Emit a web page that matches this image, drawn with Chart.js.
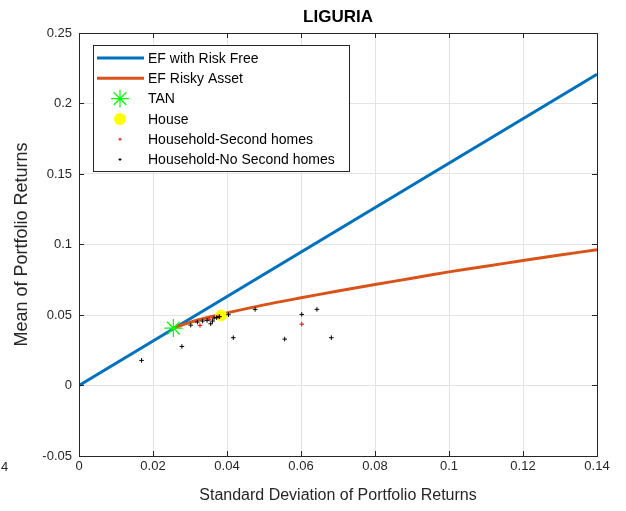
<!DOCTYPE html>
<html>
<head>
<meta charset="utf-8">
<script src="https://cdn.jsdelivr.net/npm/chart.js@4.4.0/dist/chart.umd.min.js"></script>
<style>
  html, body { margin: 0; padding: 0; background: #ffffff; }
  #wrap { width: 626px; height: 511px; position: relative; }
</style>
</head>
<body>
<div id="wrap"><canvas id="c" width="626" height="511"></canvas></div>
<script>
// ---- data ----
const titleText = 'LIGURIA';
const xTicks = [0, 0.02, 0.04, 0.06, 0.08, 0.1, 0.12, 0.14];
const yTicks = [-0.05, 0, 0.05, 0.1, 0.15, 0.2, 0.25];

const efRiskFreeX = [0, 0.14];
const efRiskFreeY = [0, 0.2207];

const efRiskyX = [0.0255, 0.030, 0.035, 0.040, 0.050, 0.060, 0.070, 0.080, 0.090, 0.100, 0.110, 0.120, 0.130, 0.140];
const efRiskyY = [0.0407, 0.0448, 0.0484, 0.0515, 0.0572, 0.0622, 0.0670, 0.0716, 0.0761, 0.0806, 0.0846, 0.0886, 0.0925, 0.0963];

const tanX = [0.0255];
const tanY = [0.0407];

const houseX = [0.0384];
const houseY = [0.0497];

const secondX = [0.0327, 0.0352, 0.0376, 0.0602];
const secondY = [0.0426, 0.0470, 0.0488, 0.0435];

const noSecondX = [0.0169, 0.0278, 0.0302, 0.0320, 0.0334, 0.0346, 0.0356, 0.0361, 0.0365, 0.0372, 0.0380, 0.0404, 0.0417, 0.0476, 0.0556, 0.0602, 0.0643, 0.0682];
const noSecondY = [0.0178, 0.0277, 0.0428, 0.0450, 0.0457, 0.0462, 0.0438, 0.0457, 0.0478, 0.0482, 0.0488, 0.0502, 0.0339, 0.0540, 0.0329, 0.0504, 0.0540, 0.0339];

const pts = (xs, ys) => xs.map((x, i) => ({ x: x, y: ys[i] }));

const FONT = "'Liberation Sans', Arial, sans-serif";
const AXIS_COLOR = '#262626';

// inward ticks + full box, like MATLAB axes
const boxPlugin = {
  id: 'boxPlugin',
  afterDatasetsDraw(chart) {
    const { ctx, chartArea: a, scales } = chart;
    ctx.save();
    ctx.strokeStyle = AXIS_COLOR;
    ctx.lineWidth = 1;
    ctx.beginPath();
    const L = 5;
    xTicks.forEach(v => {
      const px = Math.round(scales.x.getPixelForValue(v)) + 0.5;
      ctx.moveTo(px, a.bottom); ctx.lineTo(px, a.bottom - L);
      ctx.moveTo(px, a.top); ctx.lineTo(px, a.top + L);
    });
    yTicks.forEach(v => {
      const py = Math.round(scales.y.getPixelForValue(v)) + 0.5;
      ctx.moveTo(a.left, py); ctx.lineTo(a.left + L, py);
      ctx.moveTo(a.right, py); ctx.lineTo(a.right - L, py);
    });
    ctx.stroke();
    ctx.strokeRect(Math.round(a.left) + 0.5, Math.round(a.top) + 0.5,
                   Math.round(a.right - a.left), Math.round(a.bottom - a.top));
    ctx.restore();
  }
};

function drawMarker(ctx, style, x, y, r, color, lw) {
  ctx.save();
  ctx.strokeStyle = color;
  ctx.fillStyle = color;
  ctx.lineWidth = lw;
  ctx.beginPath();
  if (style === 'circle') {
    ctx.arc(x, y, r, 0, Math.PI * 2);
    ctx.fill();
  } else if (style === 'cross') {
    ctx.moveTo(x - r, y); ctx.lineTo(x + r, y);
    ctx.moveTo(x, y - r); ctx.lineTo(x, y + r);
    ctx.stroke();
  } else if (style === 'star') {
    ctx.moveTo(x - r, y); ctx.lineTo(x + r, y);
    ctx.moveTo(x, y - r); ctx.lineTo(x, y + r);
    const d = r * Math.SQRT1_2;
    ctx.moveTo(x - d, y - d); ctx.lineTo(x + d, y + d);
    ctx.moveTo(x - d, y + d); ctx.lineTo(x + d, y - d);
    ctx.stroke();
  }
  ctx.restore();
}

// legend inside the axes, upper-left, with a box
const legendPlugin = {
  id: 'boxLegend',
  afterDraw(chart) {
    const { ctx, chartArea: a } = chart;
    const ds = chart.data.datasets;
    const left = a.left + 14, top = a.top + 12;
    const w = 256, rowH = 20.3, h = 126;
    ctx.save();
    ctx.fillStyle = '#ffffff';
    ctx.fillRect(left, top, w, h);
    ctx.strokeStyle = AXIS_COLOR;
    ctx.lineWidth = 1;
    ctx.strokeRect(Math.round(left) + 0.5, Math.round(top) + 0.5, w, h);
    ctx.font = '14px ' + FONT;
    ctx.textBaseline = 'middle';
    ds.forEach((d, i) => {
      const cy = top + 13 + i * rowH;
      const sx = left + 4, ex = left + 51, mx = left + 27;
      if (d.showLine) {
        ctx.strokeStyle = d.borderColor;
        ctx.lineWidth = d.borderWidth;
        ctx.beginPath(); ctx.moveTo(sx, cy); ctx.lineTo(ex, cy); ctx.stroke();
      } else {
        const r = d.legendRadius;
        drawMarker(ctx, d.pointStyle, mx, cy, r, d.pointBorderColor || d.backgroundColor, d.pointBorderWidth || 1);
      }
      ctx.fillStyle = '#000000';
      ctx.fillText(d.label, left + 55, cy + 1);
    });
    ctx.restore();
  }
};

// title centred over the axes (MATLAB style) + stray "4" at lower-left edge
const textPlugin = {
  id: 'texts',
  afterDraw(chart) {
    const { ctx, chartArea: a } = chart;
    ctx.save();
    ctx.fillStyle = '#000000';
    ctx.font = 'bold 17px ' + FONT;
    ctx.textAlign = 'center';
    ctx.textBaseline = 'middle';
    ctx.fillText(titleText, (a.left + a.right) / 2, 17);
    ctx.fillStyle = AXIS_COLOR;
    ctx.font = '13px ' + FONT;
    ctx.textAlign = 'left';
    ctx.fillText('4', 1, 467);
    ctx.restore();
  }
};

new Chart(document.getElementById('c'), {
  type: 'scatter',
  data: {
    datasets: [
      { label: 'EF with Risk Free', data: pts(efRiskFreeX, efRiskFreeY), showLine: true,
        borderColor: '#0072BD', backgroundColor: '#0072BD', borderWidth: 3, pointRadius: 0, order: 6 },
      { label: 'EF Risky Asset', data: pts(efRiskyX, efRiskyY), showLine: true, tension: 0.3,
        borderColor: '#D95319', backgroundColor: '#D95319', borderWidth: 3, pointRadius: 0, order: 5 },
      { label: 'TAN', data: pts(tanX, tanY), showLine: false, pointStyle: 'star', pointRadius: 9,
        pointBorderColor: '#00ff00', backgroundColor: '#00ff00', pointBorderWidth: 1.2, legendRadius: 9, order: 1 },
      { label: 'House', data: pts(houseX, houseY), showLine: false, pointStyle: 'circle', pointRadius: 5.5,
        pointBorderColor: '#ffff00', backgroundColor: '#ffff00', pointBorderWidth: 1, legendRadius: 6, order: 4 },
      { label: 'Household-Second homes', data: pts(secondX, secondY), showLine: false, pointStyle: 'cross',
        pointRadius: 2.3, pointBorderColor: '#ff0000', backgroundColor: '#ff0000', pointBorderWidth: 1, legendRadius: 1.5, order: 3 },
      { label: 'Household-No Second homes', data: pts(noSecondX, noSecondY), showLine: false, pointStyle: 'cross',
        pointRadius: 2.3, pointBorderColor: '#000000', backgroundColor: '#000000', pointBorderWidth: 1, legendRadius: 1.5, order: 2 }
    ]
  },
  options: {
    responsive: false,
    animation: false,
    events: [],
    layout: { padding: { left: 0, right: 29, top: 33, bottom: 0 } },
    plugins: {
      legend: { display: false },
      tooltip: { enabled: false },
      title: { display: false }
    },
    scales: {
      x: {
        type: 'linear', min: 0, max: 0.14,
        afterBuildTicks: s => { s.ticks = xTicks.map(v => ({ value: v })); },
        afterFit: s => { s.height = 55; },
        ticks: { color: AXIS_COLOR, font: { family: FONT, size: 13 }, padding: 3, maxRotation: 0,
                 callback: v => String(v) },
        grid: { color: '#e3e3e3', drawTicks: false },
        border: { display: false },
        title: { display: true, text: 'Standard Deviation of Portfolio Returns', color: AXIS_COLOR,
                 font: { family: FONT, size: 16 }, padding: { top: 0, bottom: 6 } }
      },
      y: {
        type: 'linear', min: -0.05, max: 0.25,
        afterBuildTicks: s => { s.ticks = yTicks.map(v => ({ value: v })); },
        afterFit: s => { s.width = 79; },
        ticks: { color: AXIS_COLOR, font: { family: FONT, size: 13 }, padding: 7,
                 callback: v => String(v) },
        grid: { color: '#e3e3e3', drawTicks: false },
        border: { display: false },
        title: { display: true, text: 'Mean of Portfolio Returns', color: AXIS_COLOR,
                 font: { family: FONT, size: 18 }, padding: { top: 11, bottom: 0 } }
      }
    }
  },
  plugins: [boxPlugin, legendPlugin, textPlugin]
});
</script>
</body>
</html>
